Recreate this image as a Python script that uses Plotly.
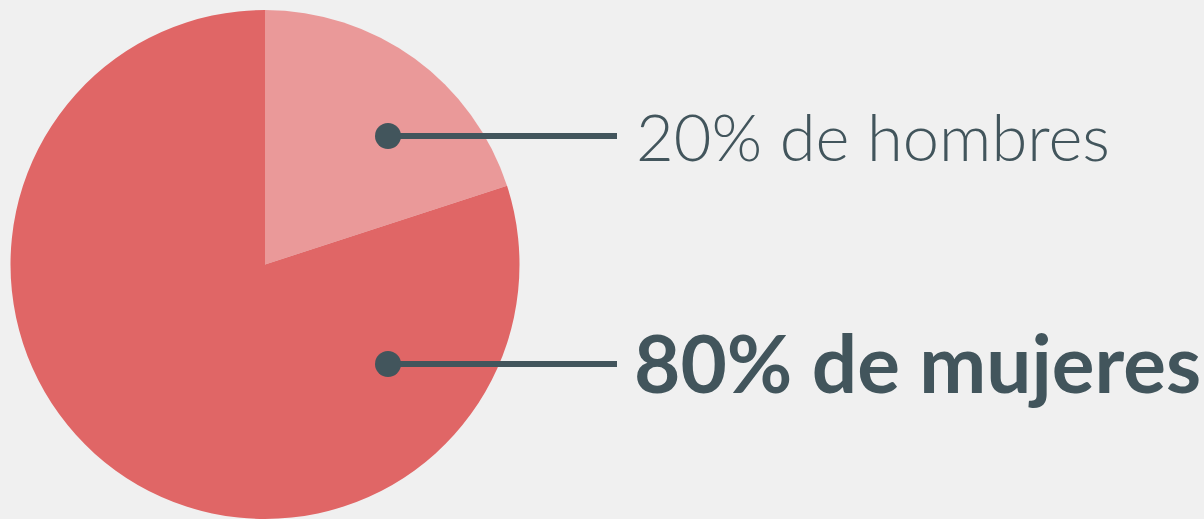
import plotly.graph_objects as go

labels = ["20% de hombres", "80% de mujeres"]
values = [20, 80]
colors = ["#EA9999", "#E06666"]

W, H = 1204, 519
fig = go.Figure()
fig.add_trace(go.Pie(
    labels=labels, values=values, sort=False, direction="clockwise", rotation=0,
    marker=dict(colors=colors, line=dict(width=0)),
    textinfo="none", hoverinfo="skip", showlegend=False,
    domain=dict(x=[10 / W, 520 / W], y=[0, 509 / H]),
))

ink = "#42555C"
def px(x): return x / W
def py(y): return 1 - y / H

rows = [(136, 136, 634, labels[0], "Lato Light, Lato, sans-serif", 300, 65),
        (364, 362, 632, labels[1], "Lato, sans-serif", 700, 80)]
shapes = []
annotations = []
for y, ty, tx, txt, fam, wt, sz in rows:
    shapes.append(dict(type="line", xref="paper", yref="paper", x0=px(388), x1=px(617),
                       y0=py(y), y1=py(y), line=dict(color=ink, width=6)))
    shapes.append(dict(type="circle", xref="paper", yref="paper", x0=px(375), x1=px(401),
                       y0=py(y + 13), y1=py(y - 13), fillcolor=ink, line=dict(width=0)))
    annotations.append(dict(xref="paper", yref="paper", x=px(tx), y=py(ty), xanchor="left",
                            yanchor="middle", showarrow=False, text=txt,
                            font=dict(family=fam, size=sz, color=ink, weight=wt)))

fig.update_layout(width=W, height=H, margin=dict(l=0, r=0, t=0, b=0),
                  paper_bgcolor="#F0F0F0", plot_bgcolor="#F0F0F0",
                  shapes=shapes, annotations=annotations)
fig.write_html("out.html", config={"displayModeBar": False},
               post_script="document.body.style.margin='0';document.body.style.overflow='hidden';document.body.style.background='#F0F0F0';")
